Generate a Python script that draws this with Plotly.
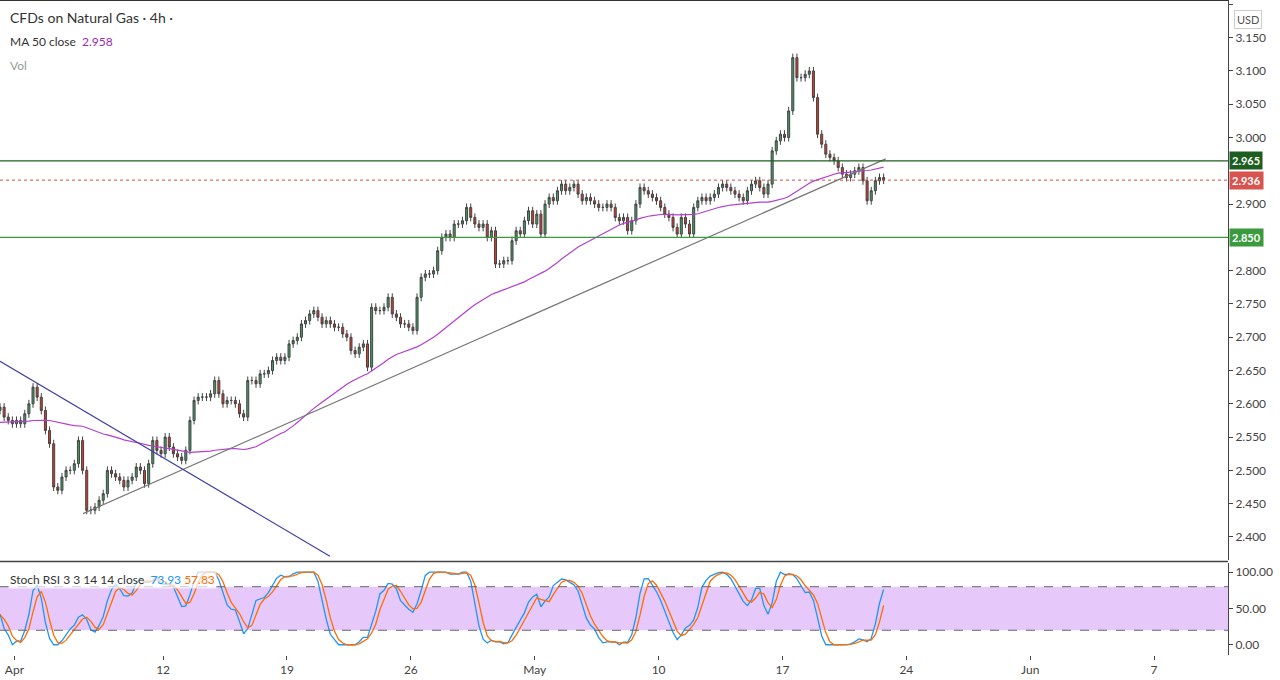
import numpy as np
import pandas as pd
import plotly.graph_objects as go

# history (off-screen, for indicator warm-up)
history = [2.56,2.57,2.58,2.57,2.56,2.55,2.56,2.57,2.58,2.59,2.58,2.57,2.56,2.55,2.54,2.55,2.56,2.57,2.56,2.55,
           2.54,2.55,2.56,2.57,2.58,2.57,2.56,2.57,2.58,2.59,2.58,2.57,2.56,2.55,2.56,2.57,2.58,2.59,2.60,2.59,
           2.58,2.57,2.58,2.59,2.60,2.59,2.58,2.59,2.60,2.59]
closes = [2.595,2.58,2.575,2.57,2.575,2.57,2.585,2.60,2.625,2.61,
          2.59,2.56,2.54,2.475,2.47,2.49,2.50,2.50,2.51,2.545,
          2.50,2.44,2.44,2.445,2.455,2.465,2.50,2.495,2.49,2.485,
          2.475,2.485,2.49,2.505,2.50,2.48,2.51,2.545,2.53,2.525,
          2.55,2.535,2.525,2.52,2.515,2.53,2.575,2.605,2.61,2.61,
          2.61,2.615,2.635,2.615,2.60,2.605,2.605,2.60,2.585,2.58,
          2.635,2.635,2.63,2.645,2.645,2.65,2.665,2.67,2.665,2.67,
          2.69,2.695,2.70,2.72,2.725,2.735,2.74,2.73,2.72,2.725,
          2.72,2.715,2.715,2.705,2.70,2.68,2.675,2.685,2.69,2.655,
          2.745,2.74,2.74,2.745,2.76,2.735,2.73,2.72,2.72,2.715,
          2.71,2.76,2.79,2.795,2.795,2.80,2.83,2.85,2.855,2.85,
          2.87,2.87,2.875,2.895,2.88,2.87,2.865,2.87,2.85,2.86,
          2.81,2.81,2.815,2.815,2.845,2.86,2.855,2.875,2.89,2.87,
          2.885,2.855,2.90,2.91,2.905,2.92,2.93,2.92,2.925,2.93,
          2.915,2.905,2.91,2.905,2.90,2.895,2.895,2.90,2.895,2.88,
          2.875,2.88,2.86,2.875,2.90,2.925,2.92,2.915,2.91,2.905,
          2.895,2.885,2.88,2.865,2.855,2.88,2.87,2.855,2.895,2.905,
          2.91,2.905,2.91,2.915,2.925,2.93,2.925,2.92,2.915,2.91,
          2.905,2.92,2.93,2.935,2.925,2.915,2.93,2.98,2.995,3.005,
          3.00,3.04,3.12,3.09,3.09,3.095,3.10,3.06,3.005,2.99,
          2.975,2.97,2.965,2.955,2.945,2.94,2.945,2.95,2.955,2.935,
          2.905,2.92,2.935,2.94,2.936]
first_bar = -39.5
tick_vals = [-36, 0, 30, 60, 90, 120, 150, 180, 210, 240]
tick_text = ["Apr", "12", "19", "26", "May", "10", "17", "24", "Jun", "7"]
price_ticks = [2.40,2.45,2.50,2.55,2.60,2.65,2.70,2.75,2.80,2.90,3.00,3.05,3.10,3.15,3.20]
levels = [2.965, 2.850]
last_price = 2.936
up_trend = ([-19.4, 175.0], [2.435, 2.968])
down_trend = ([-39.5, 40.4], [2.664, 2.371])

allc = np.array(history + closes)
n_h = len(history)
x_all = first_bar + np.arange(len(allc)) - n_h
opens = np.concatenate([[allc[0]], allc[:-1]])
wick = 0.006
highs = np.maximum(opens, allc) + wick
lows = np.minimum(opens, allc) - wick

s = pd.Series(allc)
ma50 = s.rolling(50).mean()
d = s.diff()
up = d.clip(lower=0).ewm(alpha=1/14, adjust=False).mean()
dn = (-d.clip(upper=0)).ewm(alpha=1/14, adjust=False).mean()
rsi = 100 - 100 / (1 + up / dn.replace(0, 1e-9))
lo = rsi.rolling(14).min(); hi = rsi.rolling(14).max()
st = 100 * (rsi - lo) / (hi - lo).replace(0, 1e-9)
k = st.rolling(3).mean(); dd = k.rolling(3).mean()

vis = slice(n_h, None)
fig = go.Figure()
fig.add_trace(go.Candlestick(x=x_all[vis], open=opens[vis], high=highs[vis], low=lows[vis], close=allc[vis],
    increasing=dict(fillcolor="#3f9a63", line=dict(color="#444", width=1)),
    decreasing=dict(fillcolor="#d03a2b", line=dict(color="#444", width=1)),
    whiskerwidth=0, showlegend=False, hoverinfo="skip", xaxis="x", yaxis="y"))
fig.add_trace(go.Scatter(x=x_all[vis], y=ma50[vis], mode="lines", line=dict(color="#b23fd1", width=1.2),
                         showlegend=False, xaxis="x", yaxis="y"))
fig.add_trace(go.Scatter(x=up_trend[0], y=up_trend[1], mode="lines", line=dict(color="#777", width=1.2),
                         showlegend=False, xaxis="x", yaxis="y"))
fig.add_trace(go.Scatter(x=down_trend[0], y=down_trend[1], mode="lines", line=dict(color="#3f3fa8", width=1.2),
                         showlegend=False, xaxis="x", yaxis="y"))
fig.add_trace(go.Scatter(x=x_all[vis], y=k[vis], mode="lines", line=dict(color="#2196f3", width=1.3),
                         showlegend=False, xaxis="x2", yaxis="y2"))
fig.add_trace(go.Scatter(x=x_all[vis], y=dd[vis], mode="lines", line=dict(color="#ff6d00", width=1.3),
                         showlegend=False, xaxis="x2", yaxis="y2"))

xr = [-39.5, 257.9]
shapes = [
    dict(type="rect", xref="x2", yref="y2", x0=xr[0], x1=xr[1], y0=20, y1=80, fillcolor="#e6c8fb",
         line=dict(width=0), layer="below"),
    dict(type="line", xref="x2", yref="y2", x0=xr[0], x1=xr[1], y0=80, y1=80, line=dict(color="#666", width=1, dash="dash")),
    dict(type="line", xref="x2", yref="y2", x0=xr[0], x1=xr[1], y0=20, y1=20, line=dict(color="#666", width=1, dash="dash")),
    dict(type="line", xref="x", yref="y", x0=xr[0], x1=xr[1], y0=levels[0], y1=levels[0], line=dict(color="#1e5e20", width=1.2)),
    dict(type="line", xref="x", yref="y", x0=xr[0], x1=xr[1], y0=levels[1], y1=levels[1], line=dict(color="#3a9a3e", width=1.2)),
    dict(type="line", xref="x", yref="y", x0=xr[0], x1=xr[1], y0=last_price, y1=last_price, line=dict(color="#d05040", width=1, dash="dot")),
    dict(type="line", xref="paper", yref="paper", x0=0, x1=1, y0=0.1465, y1=0.1465, line=dict(color="#444", width=1.5)),
    dict(type="line", xref="paper", yref="paper", x0=0, x1=1, y0=1, y1=1, line=dict(color="#333", width=2)),
]
ann = [
    dict(text="CFDs on Natural Gas · 4h ·", x=8, y=18, font=dict(size=14, color="#333"), bg=None),
    dict(text="MA 50 close  <span style='color:#9c27b0'>2.958</span>", x=8, y=42, font=dict(size=12, color="#333"), bg=None),
    dict(text="Vol", x=8, y=65, font=dict(size=12, color="#999"), bg=None),
    dict(text="Stoch RSI 3 3 14 14 close  <span style='color:#2196f3'>73.93</span> <span style='color:#ff6d00'>57.83</span>",
         x=8, y=579, font=dict(size=12, color="#333"), bg="rgba(255,255,255,0.7)"),
]
annotations = [dict(xref="paper", yref="paper", xanchor="left", yanchor="middle", showarrow=False,
                    x=a["x"] / 1228, y=1 - a["y"] / 658, text=a["text"], bgcolor=a["bg"],
                    font=dict(family="Lato", **a["font"]))
               for a in ann]
for val, col in [(levels[0], "#1e5e20"), (last_price, "#d9534f"), (levels[1], "#3a9a3e")]:
    annotations.append(dict(xref="paper", yref="y", x=1, y=val, xanchor="left", yanchor="middle", showarrow=False,
                            text=f"<b>{val:.3f}</b>", bgcolor=col, font=dict(color="white", size=11, family="Lato"),
                            borderpad=2, xshift=1))
annotations.append(dict(xref="paper", yref="paper", x=1.005, y=0.985, xanchor="left", showarrow=False, text="USD",
                        bordercolor="#ccc", borderwidth=1, borderpad=2, font=dict(size=11, color="#555")))

fig.update_layout(
    width=1280, height=680, margin=dict(l=0, r=52, t=0, b=22), plot_bgcolor="white", paper_bgcolor="white",
    font=dict(family="Lato", color="#444", size=12),
    xaxis=dict(domain=[0, 1], range=xr, showticklabels=False, showgrid=False, zeroline=False,
               rangeslider=dict(visible=False), anchor="y", automargin=False),
    yaxis=dict(domain=[0.149, 1], range=[2.3654, 3.2066], side="right", tickvals=price_ticks,
               tickformat=".3f", ticks="outside", ticklen=4, tickcolor="#444", showgrid=False, zeroline=False,
               showline=True, linecolor="#444", anchor="x", automargin=False),
    xaxis2=dict(domain=[0, 1], range=xr, tickvals=tick_vals, ticktext=tick_text, showgrid=False, zeroline=False,
                ticks="outside", ticklen=4, anchor="y2", matches="x", automargin=False),
    yaxis2=dict(domain=[0.005, 0.144], range=[-13.7, 112.3], side="right", tickvals=[0, 50, 100],
                tickformat=".2f", ticks="outside", ticklen=4, showgrid=False, zeroline=False,
                showline=True, linecolor="#444", anchor="x2", automargin=False),
    shapes=shapes, annotations=annotations,
)
fig.write_html("out.html", config={"displayModeBar": False},
               post_script="document.body.style.margin='0';document.body.style.overflow='hidden';")
